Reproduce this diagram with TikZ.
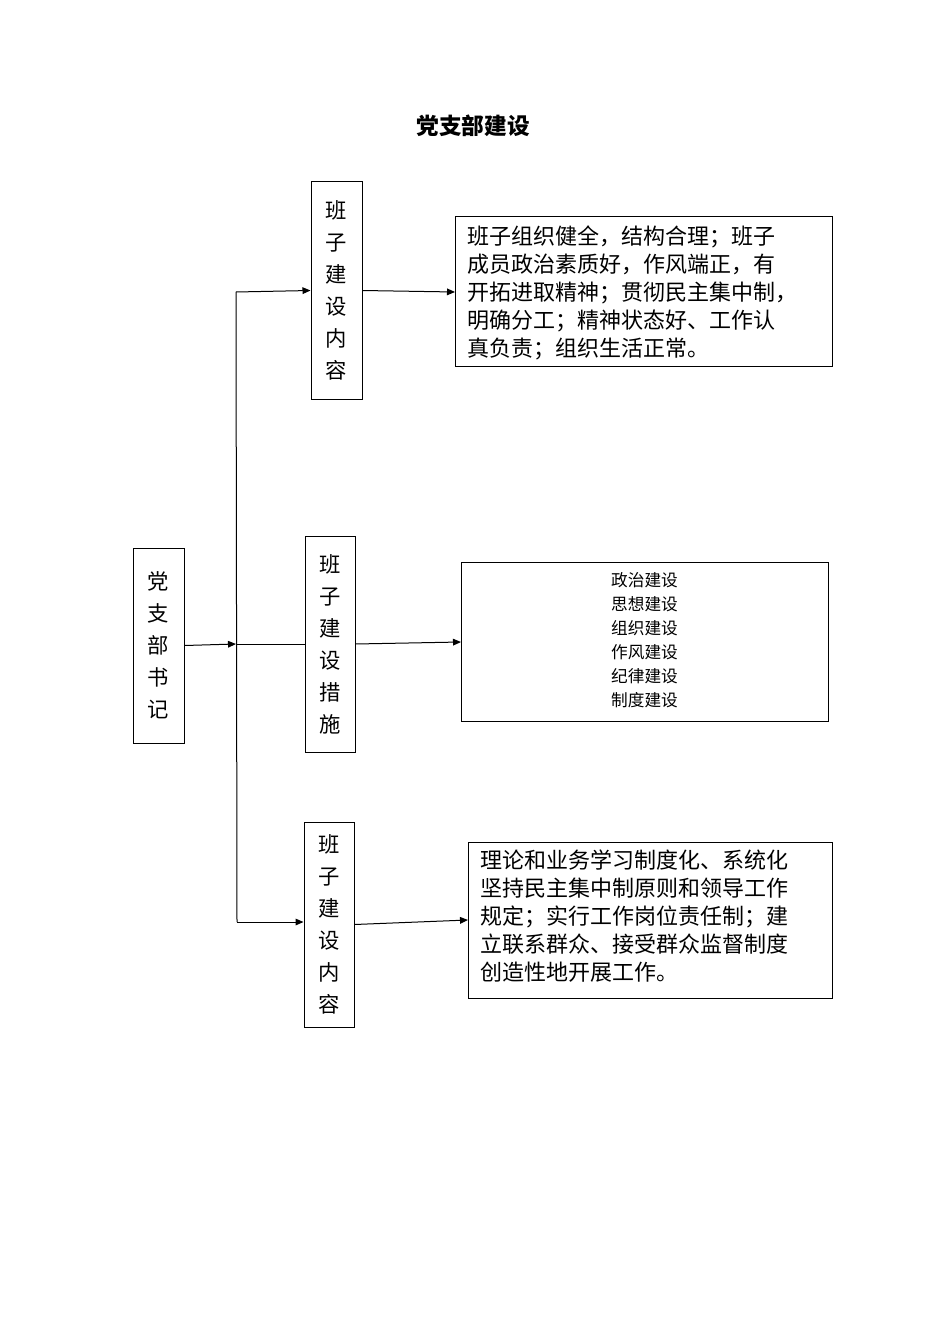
\documentclass[tikz,border=0pt]{standalone}
\usepackage{fontspec}
\setmainfont{Noto Sans CJK SC}
\usetikzlibrary{arrows.meta}
\tikzset{every picture/.style={line width=0.75pt}}
\tikzset{
  vbox/.style={draw, inner sep=0pt, align=center, font=\fontsize{16}{24}\selectfont},
  tbox/.style={draw, inner sep=0pt, anchor=north west},
  arr/.style={-{Triangle[length=6pt,width=5pt]}},
}
\begin{document}
\begin{tikzpicture}[x=0.75pt,y=0.75pt,yscale=-1,xscale=1]
\useasboundingbox (0,0) rectangle (950,1344);

% Title
\node (title) at (473,126) {\fontsize{17}{20}\selectfont\bfseries 党支部建设};

% Left box
\node[vbox, minimum width=51*0.75pt, minimum height=195*0.75pt] (sec) at (158.5,645.5) {党\\支\\部\\书\\记};

% Middle boxes
\node[vbox, minimum width=51*0.75pt, minimum height=217*0.75pt] (nr1) at (336.5,290.5) {班\\子\\建\\设\\内\\容};
\node[vbox, minimum width=50*0.75pt, minimum height=216*0.75pt] (cs) at (330,644) {班\\子\\建\\设\\措\\施};
\node[vbox, minimum width=50*0.75pt, minimum height=205*0.75pt] (nr2) at (329,924.5) {班\\子\\建\\设\\内\\容};

% Text boxes
\draw (455,217) rectangle (832,366);
\node[anchor=north west, align=left, inner sep=0pt, font=\fontsize{16.5}{21}\selectfont] (t1) at (467,225)
  {班子组织健全，结构合理；班子\\成员政治素质好，作风端正，有\\开拓进取精神；贯彻民主集中制，\\明确分工；精神状态好、工作认\\真负责；组织生活正常。};
\coordinate (t1w) at (455,292);

\draw (461,562) rectangle (828,721);
\node[align=center, inner sep=0pt, font=\fontsize{12.5}{18}\selectfont] (t2) at (644.5,640)
  {政治建设\\思想建设\\组织建设\\作风建设\\纪律建设\\制度建设};
\coordinate (t2w) at (461,642);

\draw (468,842) rectangle (832,998);
\node[anchor=north west, align=left, inner sep=0pt, font=\fontsize{16.5}{21}\selectfont] (t3) at (480,849)
  {理论和业务学习制度化、系统化\\坚持民主集中制原则和领导工作\\规定；实行工作岗位责任制；建\\立联系群众、接受群众监督制度\\创造性地开展工作。};
\coordinate (t3w) at (468,920);

% Connectors
\coordinate (top) at (236,292);
\coordinate (mid) at (236,644);
\coordinate (bot) at (237,922);
\draw (top) -- (bot);
\draw[arr] (sec.east) -- (mid);
\draw (mid) -- (cs.west);
\draw[arr] (top) -- (nr1.west);
\draw[arr] (bot) -- (nr2.west |- bot);
\draw[arr] (nr1.east) -- (t1w);
\draw[arr] (cs.east) -- (t2w);
\draw[arr] (nr2.east) -- (t3w);
\end{tikzpicture}
\end{document}
